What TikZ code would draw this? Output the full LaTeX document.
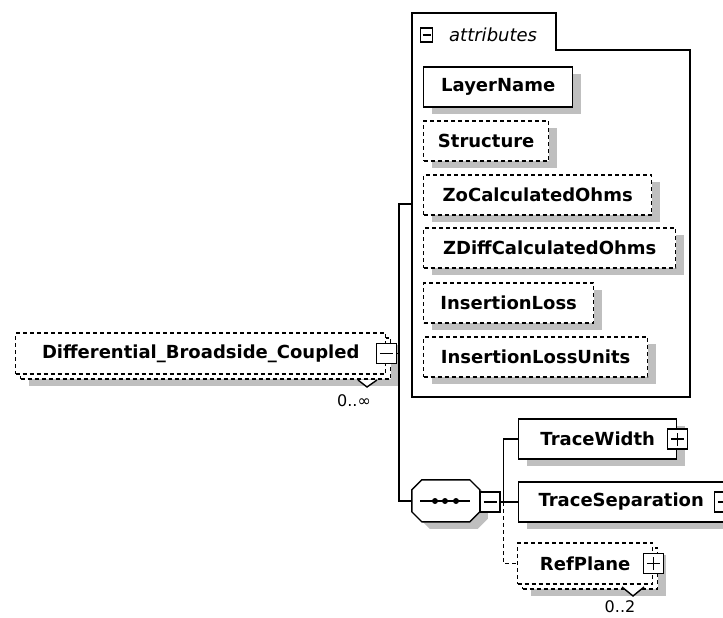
\documentclass[tikz,border=0pt]{standalone}
\usepackage{fontspec}
\setmainfont{DejaVu Sans}
\usetikzlibrary{shadows}
\newcommand\elemfont{\bfseries\fontsize{18}{20}\selectfont}
\tikzset{
  wire/.style={line width=1.4pt},
  box/.style={draw, fill=white, line width=1.4pt, minimum height=40pt, inner sep=0pt, anchor=west, font=\elemfont},
  shade/.style={drop shadow={shadow xshift=8pt, shadow yshift=-7pt, fill=black!25, opacity=1}},
  elem/.style={box, shade},
  optional/.style={dash pattern=on 4pt off 3pt},
  expander/.style={draw, fill=white, line width=1.4pt, minimum width=20pt, minimum height=20pt, inner sep=0pt},
  minus/.style={path picture={
    \draw[line width=1.4pt] ([xshift=-#1]path picture bounding box.center) -- ([xshift=#1]path picture bounding box.center);}},
  minus/.default=6.5pt,
  plus/.style={path picture={
    \draw[line width=1.4pt] ([xshift=-#1]path picture bounding box.center) -- ([xshift=#1]path picture bounding box.center);
    \draw[line width=1.4pt] ([yshift=-#1]path picture bounding box.center) -- ([yshift=#1]path picture bounding box.center);}},
  plus/.default=6.5pt,
  card/.style={font=\fontsize{16}{17}\selectfont, inner sep=0pt},
}

\begin{document}
\begin{tikzpicture}[x=1pt, y=-1pt]
\useasboundingbox (0,0) rectangle (723,618);

% attribute group and its tab
\draw[wire] (412,13) -- (556,13) -- (556,50) -- (690,50) -- (690,397) -- (412,397) -- cycle;
\node[expander, minus=4pt, minimum width=12pt, minimum height=14pt] (attrexp) at (426.5,35) {};
\node[font=\itshape\fontsize{18}{20}\selectfont, anchor=west, inner sep=0pt] (attrlabel) at (449,35) {attributes};
\coordinate (attrin) at (412,204);

\node[elem, minimum width=149pt] (layername) at (423,87) {LayerName};
\node[elem, optional, minimum width=125pt] (structure) at (423,141) {Structure};
\node[elem, optional, minimum width=228pt] (zocalc) at (423,195) {ZoCalculatedOhms};
\node[elem, optional, minimum width=252pt] (zdiffcalc) at (423,248) {ZDiffCalculatedOhms};
\node[elem, optional, minimum width=170pt] (insloss) at (423,303) {InsertionLoss};
\node[elem, optional, minimum width=224pt] (inslossunits) at (423,357) {InsertionLossUnits};

% root element, repeated 0..inf
\node[elem, optional, minimum width=370pt, minimum height=41pt] (rootback) at (20,358.5) {};
\node[box, optional, minimum width=370pt, minimum height=41pt] (root) at (15,353.5) {Differential\_Broadside\_Coupled};
\node[expander, minus] (rootexp) at (root.east) {};
\draw[wire, fill=white] (358,380) -- (367,387) -- (377,380);
\node[card] (rootcard) at (354,401) {0..∞};

% sequence compositor
\node[minimum width=68pt, minimum height=42pt, inner sep=0pt] (seq) at (446,501) {};
\draw[wire, fill=white, shade] (seq.north west) ++(0,10) -- ++(10,-10) -- ++(48,0) -- ++(10,10)
  -- ++(0,22) -- ++(-10,10) -- ++(-48,0) -- ++(-10,-10) -- cycle;
\draw[wire] ([xshift=-26pt]seq.center) -- ([xshift=24pt]seq.center);
\foreach \dx in {-11,-1,10}
  \fill ([xshift=\dx pt]seq.center) circle (3pt);
\node[expander, minus] (seqexp) at (490,502) {};

\draw[wire] (rootexp.east) -- ++(2,0) coordinate (rootbus) |- (attrin);
\draw[wire] (rootbus) |- (seq.west);

% children of the sequence
\node[elem, minimum width=158pt] (tracewidth) at (518,439) {TraceWidth};
\node[expander, plus] (twexp) at (tracewidth.east) {};
\node[elem, minimum width=205pt] (tracesep) at (518,502) {TraceSeparation};
\node[expander, plus] (tsexp) at (tracesep.east) {};
\node[elem, optional, minimum width=135pt, minimum height=41pt] (refplaneback) at (522,568.5) {};
\node[box, optional, minimum width=135pt, minimum height=41pt] (refplane) at (517,563.5) {RefPlane};
\node[expander, plus] (rpexp) at (refplane.east) {};
\draw[wire, fill=white] (622,587) -- (633,596) -- (644,587);
\node[card] (rpcard) at (620,607) {0..2};

\draw[wire] (seqexp.east) -- ++(3,0) coordinate (seqbus) |- (tracewidth.west);
\draw[wire] (seqexp.east) -- (tracesep.west);
\draw[wire, optional] (seqbus) |- (refplane.west);
\end{tikzpicture}
\end{document}
